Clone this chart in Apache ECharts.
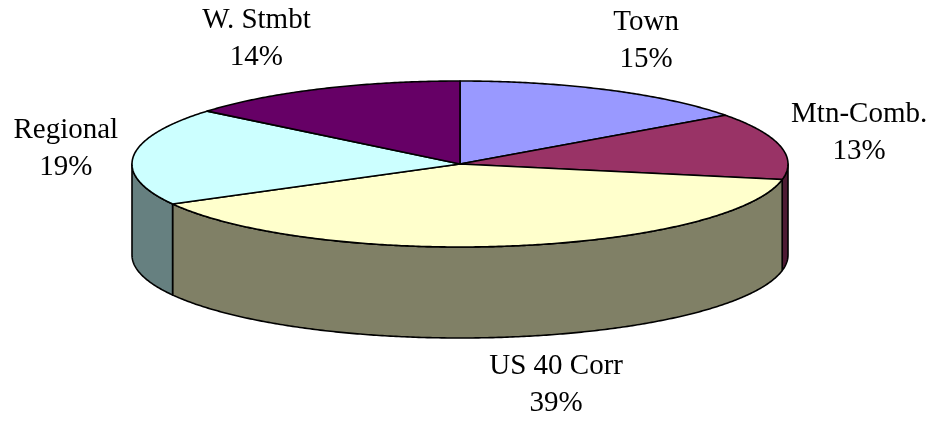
<!DOCTYPE html>
<html>
<head>
<meta charset="utf-8">
<script src="https://cdn.jsdelivr.net/npm/echarts@6/dist/echarts.min.js"></script>
<style>
html,body{margin:0;padding:0;background:#fff;}
#chart{width:935px;height:422px;}
</style>
</head>
<body>
<div id="chart"></div>
<script>
// ---- data ----
const categories = ['Town', 'Mtn-Comb.', 'US 40 Corr', 'Regional', 'W. Stmbt'];
const values = [15, 13, 39, 19, 14];

// ---- styles / layout ----
const topColors = ['#9999FF', '#993366', '#FFFFCC', '#CCFFFF', '#660066'];
const sideColors = ['#4D4D80', '#4D1A33', '#808066', '#668080', '#330033'];
const CX = 460, CY = 164, RX = 328, RY = 83, DEPTH = 91;
const LRX = 410, LRY = 135;
const labelNudge = {
  'Town': [0, -3],
  'Mtn-Comb.': [-1, -2],
  'US 40 Corr': [32, -2],
  'Regional': [14, -2],
  'W. Stmbt': [-29, -3]
};

const total = values.reduce((a, b) => a + b, 0);

function pt(deg, dy) {
  const r = deg * Math.PI / 180;
  return [CX + RX * Math.sin(r), CY - RY * Math.cos(r) + (dy || 0)];
}
function arc(a, b, dy) {
  const pts = [];
  const n = Math.max(2, Math.ceil(Math.abs(b - a) * 2));
  for (let i = 0; i <= n; i++) pts.push(pt(a + (b - a) * i / n, dy));
  return pts;
}

function renderItem(params, api) {
  const idx = params.dataIndex;
  let acc = 0;
  for (let i = 0; i < idx; i++) acc += values[i];
  const start = acc / total * 360;
  const end = (acc + values[idx]) / total * 360;
  const children = [];
  const a = Math.max(start, 90), b = Math.min(end, 270);
  if (b > a) {
    children.push({
      type: 'polygon',
      z2: 1,
      shape: { points: arc(a, b, 0).concat(arc(b, a, DEPTH)) },
      style: { fill: sideColors[idx], stroke: '#000', lineWidth: 1.6, lineJoin: 'round' }
    });
  }
  children.push({
    type: 'polygon',
    z2: 10,
    shape: { points: [[CX, CY]].concat(arc(start, end, 0)) },
    style: { fill: topColors[idx], stroke: '#000', lineWidth: 1.6, lineJoin: 'round' }
  });
  const mid = (start + end) / 2 * Math.PI / 180;
  const s = Math.sin(mid), c = Math.cos(mid);
  let lx = CX + LRX * s;
  let ly = CY - LRY * c + (c < 0 ? -c * DEPTH : 0);
  const nd = labelNudge[categories[idx]] || [0, 0];
  lx += nd[0]; ly += nd[1];
  const pct = Math.round(values[idx] / total * 100) + '%';
  children.push({
    type: 'text',
    z2: 20,
    style: {
      text: categories[idx] + '\n' + pct,
      x: lx, y: ly,
      fill: '#000',
      font: '29px "Liberation Serif", "Times New Roman", serif',
      align: 'center',
      verticalAlign: 'middle',
      lineHeight: 37
    }
  });
  return { type: 'group', children: children };
}

const chart = echarts.init(document.getElementById('chart'), null, { renderer: 'canvas' });
chart.setOption({
  animation: false,
  backgroundColor: '#fff',
  series: [{
    type: 'custom',
    coordinateSystem: 'none',
    silent: true,
    renderItem: renderItem,
    data: values.map((v, i) => ({ name: categories[i], value: v }))
  }]
});
</script>
</body>
</html>
